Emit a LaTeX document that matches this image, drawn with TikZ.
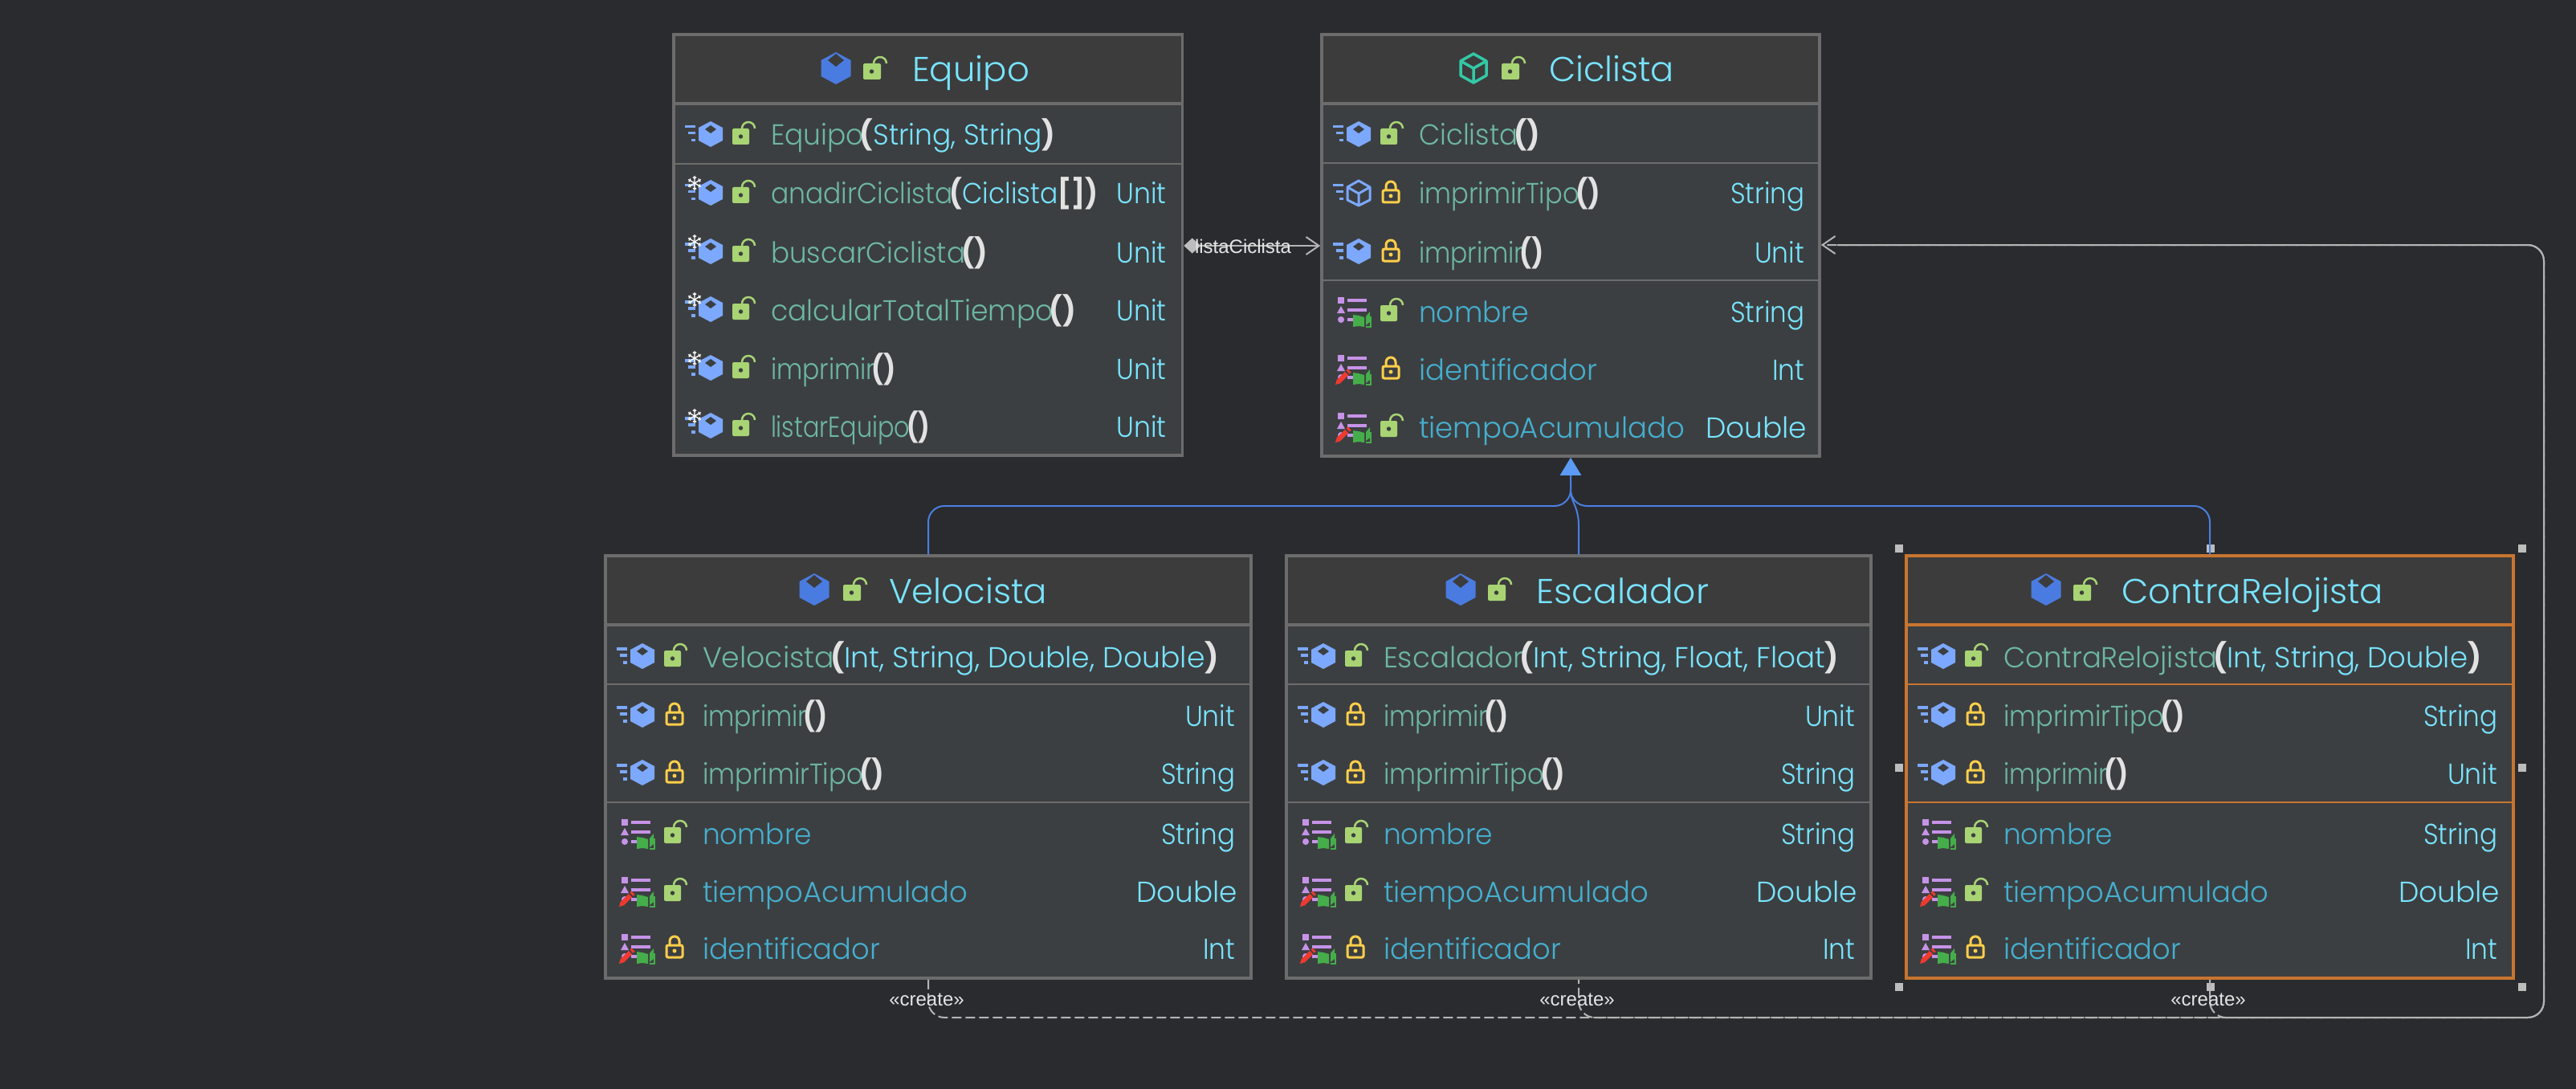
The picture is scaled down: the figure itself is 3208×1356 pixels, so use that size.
\documentclass[tikz,border=0pt]{standalone}
\usepackage{fontspec}
\usetikzlibrary{arrows.meta}
\setmainfont{Poppins Light}[BoldFont=Poppins Bold]
\newfontfamily\arialf{Liberation Sans}
\definecolor{bgc}{HTML}{2A2B2F}
\definecolor{bodyc}{HTML}{3C3F41}
\definecolor{hdrc}{HTML}{3C3C3C}
\definecolor{bordc}{HTML}{6C6C6C}
\definecolor{orngc}{HTML}{C8752F}
\definecolor{mnamec}{HTML}{6DB8A2}
\definecolor{fnamec}{HTML}{45AFCF}
\definecolor{typec}{HTML}{78E4FF}
\definecolor{parc}{HTML}{E2E2E2}
\definecolor{icob}{HTML}{7CA8FF}
\definecolor{hexh}{HTML}{4A7BE0}
\definecolor{tealc}{HTML}{32C9A5}
\definecolor{lockg}{HTML}{A8D474}
\definecolor{locky}{HTML}{FFCF4A}
\definecolor{listc}{HTML}{C693E8}
\definecolor{bookc}{HTML}{45AE4A}
\definecolor{penc}{HTML}{F03A30}
\definecolor{bluel}{HTML}{4A7FDF}
\definecolor{bluet}{HTML}{5B9BF5}
\definecolor{grayl}{HTML}{B4B4B4}
\definecolor{handc}{HTML}{BDBDBD}
\definecolor{labc}{HTML}{E4E4E4}
\newcounter{tn}
\tikzset{
  umlbox/.style={draw=bordc,line width=3.5pt,rectangle,inner sep=0pt},
  txt/.style={inner sep=0pt,outer sep=0pt,font=\fontsize{36}{36}\selectfont},
  hdrtxt/.style={inner sep=0pt,outer sep=0pt,font=\fontsize{43}{43}\selectfont,text=typec},
  lab/.style={inner sep=0pt,outer sep=0pt,font=\arialf\fontsize{24}{24}\selectfont,text=labc},
  inherit/.style={draw=bluel,line width=2pt,rounded corners=20pt},
  dep/.style={draw=grayl,line width=2pt,rounded corners=20pt,dash pattern=on 12pt off 5pt},
  handle/.style={fill=handc}
}
\newcommand\mn[1]{\textcolor{mnamec}{#1}\kern-5pt}
\newcommand\fn[1]{\textcolor{fnamec}{#1}}
\newcommand\ty[1]{\textcolor{typec}{#1}}
\newcommand\pa[1]{\textcolor{parc}{\textbf{#1}}}
% text of given width, left aligned
\newcommand\TxL[4]{\stepcounter{tn}\node[txt,anchor=base west] (t\arabic{tn}) at (#1,#2+1) {\resizebox{#3pt}{\height}{#4}};}
\newcommand\TxR[4]{\stepcounter{tn}\node[txt,anchor=base east] (t\arabic{tn}) at (#1,#2+1) {\resizebox{#3pt}{\height}{#4}};}
\newcommand\TxH[4]{\stepcounter{tn}\node[hdrtxt,anchor=base west] (t\arabic{tn}) at (#1,#2) {\resizebox{#3pt}{\height}{#4}};}
% icons
\newcommand\speedl{\fill[icob] (14,-24) rectangle (27,-20.5);\fill[icob] (18,-16) rectangle (27,-12.5);\fill[icob] (22,-7) rectangle (27,-3.5);}
\newcommand\hexM{\speedl\fill[icob] (46,-29)--(61,-21)--(61,-5)--(46,3)--(31,-5)--(31,-21)--cycle;\fill[bodyc] (46,-24)--(53,-19)--(46,-14)--(39,-19)--cycle;}
\newcommand\cubeM{\speedl\draw[icob,line width=3pt,line join=round] (46,-28)--(60,-20)--(60,-4)--(46,3)--(32,-4)--(32,-20)--cycle (32,-20)--(46,-12)--(60,-20) (46,-12)--(46,3);}
\newcommand\flake{\foreach \a in {30,90,150,210,270,330}{\draw[white,line width=1.3pt] (26,-25)--({26+9*cos(\a)},{-25+9*sin(\a)}) ({26+6*cos(\a)+2.5*cos(\a+60)},{-25+6*sin(\a)+2.5*sin(\a+60)})--({26+6*cos(\a)},{-25+6*sin(\a)})--({26+6*cos(\a)+2.5*cos(\a-60)},{-25+6*sin(\a)+2.5*sin(\a-60)});}}
\newcommand\lockO[1]{\begin{scope}[shift={(#1,0)}]\fill[lockg,rounded corners=2pt] (0,-20) rectangle (21,0);\draw[lockg,line width=2.5pt] (12,-20) arc[start angle=180,end angle=0,radius=8pt];\fill[bodyc] (10.5,-10) circle[radius=2.7pt];\end{scope}}
\newcommand\lockC[1]{\begin{scope}[shift={(#1,0)}]\draw[locky,line width=3pt,rounded corners=2pt] (0,-16) rectangle (20,-1);\draw[locky,line width=3pt] (4,-16)--(4,-21) arc[start angle=180,end angle=0,radius=6pt]--(16,-16);\fill[locky] (10,-9) circle[radius=2.5pt];\end{scope}}
\newcommand\listI{\fill[listc] (20,-30) rectangle (28,-22);\fill[listc] (32,-28) rectangle (56,-24);\fill[listc] (19,-10)--(24,-19)--(29,-10)--cycle;\fill[listc] (32,-16) rectangle (56,-12);\fill[listc] (24,-2) circle[radius=4pt];\fill[listc] (32,-4) rectangle (52,0);\fill[bookc] (39,-8)--(46,-7)--(53,-5)--(53,7)--(46,6)--(39,7)--cycle;\fill[bookc] (55,-6)--(60,-12)--(60,1)--(55,5)--cycle;\draw[bookc,line width=1.5pt] (55,7)--(61,7)--(61,-6);}
\newcommand\pencilI{\fill[penc] (17,7)--(19,0)--(24,5)--cycle;\draw[penc,line width=6pt] (21.5,2.5)--(31,-7);\draw[penc,line width=6pt] (32.5,-8.5)--(34.5,-10.5);}
% rows: L, baseline, lock, width, content
\newcommand\rowM[5]{\begin{scope}[shift={(#1,#2)}]\hexM\if#3o\lockO{73}\else\lockC{76}\fi\end{scope}\TxL{#1+121}{#2}{#4}{#5}}
\newcommand\rowS[5]{\begin{scope}[shift={(#1,#2)}]\hexM\flake\lockO{73}\end{scope}\TxL{#1+121}{#2}{#4}{#5}}
\newcommand\rowA[5]{\begin{scope}[shift={(#1,#2)}]\cubeM\lockC{76}\end{scope}\TxL{#1+121}{#2}{#4}{#5}}
\newcommand\rowF[6]{\begin{scope}[shift={(#1,#2)}]\listI\if#6p\pencilI\fi\if#3o\lockO{73}\else\lockC{76}\fi\end{scope}\TxL{#1+121}{#2}{#4}{\fn{#5}}}
\newcommand\tyS[2]{\TxR{#1}{#2}{92}{\ty{String}}}
\newcommand\tyU[2]{\TxR{#1}{#2}{62}{\ty{Unit}}}
\newcommand\tyI[2]{\TxR{#1}{#2}{40}{\ty{Int}}}
\newcommand\tyD[2]{\TxR{#1+3}{#2}{126}{\ty{Double}}}
\newcommand\hexH[2]{\begin{scope}[shift={(#1,#2)}]\fill[hexh] (0,-37)--(18.5,-27)--(18.5,-7)--(0,3)--(-18.5,-7)--(-18.5,-27)--cycle;\fill[hdrc] (0,-35)--(10,-27)--(0,-19)--(-10,-27)--cycle;\end{scope}}
\newcommand\cubeH[2]{\begin{scope}[shift={(#1,#2)}]\draw[tealc,line width=3.5pt,line join=round] (0,-35)--(16,-26)--(16,-8)--(0,1)--(-16,-8)--(-16,-26)--cycle (-16,-26)--(0,-17)--(16,-26) (0,-17)--(0,1);\end{scope}}
\newcommand\lockH[2]{\begin{scope}[shift={(#1,#2-3)}]\fill[lockg,rounded corners=2pt] (0,-20) rectangle (22,0);\draw[lockg,line width=2.5pt] (13,-20) arc[start angle=180,end angle=0,radius=8pt];\fill[hdrc] (10.5,-10) circle[radius=2.7pt];\end{scope}}
% box: name, x0,y0,x1,y1, header, sep1, sep2, colour
\newcommand\umlb[9]{%
  \fill[bodyc] (#2,#3) rectangle (#4,#5);
  \fill[hdrc] (#2,#3) rectangle (#4,#6);
  \draw[#9,line width=3.5pt] (#2,#6)--(#4,#6);
  \draw[#9,line width=2pt] (#2,#7)--(#4,#7);
  \ifnum#8>0 \draw[#9,line width=2pt] (#2,#8)--(#4,#8);\fi
  \node[umlbox,draw=#9,minimum width={(#4-#2)*1pt},minimum height={(#5-#3)*1pt}] (#1) at ({(#2+#4)/2},{(#3+#5)/2}) {};
}
\begin{document}
\begin{tikzpicture}[x=1pt,y=-1pt]
\useasboundingbox (0,0) rectangle (3208,1356);
\fill[bgc] (0,0) rectangle (3208,1356);
\coordinate (busU) at (0,630);
\coordinate (busD) at (0,1267);
\coordinate (rail) at (3168,0);
\coordinate (assocY) at (0,306);
\coordinate (depY) at (0,305);

\umlb{equipo}{839}{43}{1472.5}{567}{129}{204}{0}{bordc}
\umlb{ciclista}{1646}{43}{2266}{568}{129}{203}{349}{bordc}
\umlb{velocista}{754}{692}{1558}{1218}{778}{852}{999}{bordc}
\umlb{escalador}{1602}{692}{2330}{1218}{778}{852}{999}{bordc}
\umlb{contra}{2374}{692}{3130}{1218}{778}{852}{999}{orngc}

% Equipo
\hexH{1041}{102}\lockH{1075}{102}\TxH{1136}{102}{146}{Equipo}
\rowM{839}{180}{o}{354}{\mn{Equipo}\pa{(}\ty{String, String}\pa{)}}
\rowS{839}{253}{o}{407}{\mn{anadirCiclista}\pa{(}\ty{Ciclista}\pa{[]}\pa{)}}\tyU{1452.5}{253}
\rowS{839}{326}{o}{270}{\mn{buscarCiclista}\pa{()}}\tyU{1452.5}{326}
\rowS{839}{398}{o}{380}{\mn{calcularTotalTiempo}\pa{()}}\tyU{1452.5}{398}
\rowS{839}{471}{o}{156}{\mn{imprimir}\pa{()}}\tyU{1452.5}{471}
\rowS{839}{543}{o}{198}{\mn{listarEquipo}\pa{()}}\tyU{1452.5}{543}

% Ciclista
\cubeH{1835}{102}\lockH{1870}{102}\TxH{1929}{102}{156}{Ciclista}
\rowM{1646}{180}{o}{151}{\mn{Ciclista}\pa{()}}
\rowA{1646}{253}{c}{226}{\mn{imprimirTipo}\pa{()}}\tyS{2247}{253}
\rowM{1646}{326}{c}{156}{\mn{imprimir}\pa{()}}\tyU{2247}{326}
\rowF{1646}{400}{o}{137}{nombre}{n}\tyS{2247}{400}
\rowF{1646}{472}{c}{222}{identificador}{p}\tyI{2247}{472}
\rowF{1646}{544}{o}{331}{tiempoAcumulado}{p}\tyD{2247}{544}

% Velocista
\hexH{1014}{751}\lockH{1050}{751}\TxH{1107}{751}{197}{Velocista}
\rowM{754}{830}{o}{643}{\mn{Velocista}\pa{(}\ty{Int, String, Double, Double}\pa{)}}
\rowM{754}{903}{c}{156}{\mn{imprimir}\pa{()}}\tyU{1538}{903}
\rowM{754}{975}{c}{226}{\mn{imprimirTipo}\pa{()}}\tyS{1538}{975}
\rowF{754}{1050}{o}{136}{nombre}{n}\tyS{1538}{1050}
\rowF{754}{1122}{o}{330}{tiempoAcumulado}{p}\tyD{1538}{1122}
\rowF{754}{1193}{c}{221}{identificador}{p}\tyI{1538}{1193}

% Escalador
\hexH{1819}{751}\lockH{1853}{751}\TxH{1913}{751}{215}{Escalador}
\rowM{1602}{830}{o}{567}{\mn{Escalador}\pa{(}\ty{Int, String, Float, Float}\pa{)}}
\rowM{1602}{903}{c}{156}{\mn{imprimir}\pa{()}}\tyU{2310}{903}
\rowM{1602}{975}{c}{226}{\mn{imprimirTipo}\pa{()}}\tyS{2310}{975}
\rowF{1602}{1050}{o}{136}{nombre}{n}\tyS{2310}{1050}
\rowF{1602}{1122}{o}{330}{tiempoAcumulado}{p}\tyD{2310}{1122}
\rowF{1602}{1193}{c}{221}{identificador}{p}\tyI{2310}{1193}

% ContraRelojista
\hexH{2548}{751}\lockH{2582}{751}\TxH{2642}{751}{326}{ContraRelojista}
\rowM{2374}{830}{o}{595}{\mn{ContraRelojista}\pa{(}\ty{Int, String, Double}\pa{)}}
\rowM{2374}{903}{c}{226}{\mn{imprimirTipo}\pa{()}}\tyS{3110}{903}
\rowM{2374}{975}{c}{156}{\mn{imprimir}\pa{()}}\tyU{3110}{975}
\rowF{2374}{1050}{o}{136}{nombre}{n}\tyS{3110}{1050}
\rowF{2374}{1122}{o}{330}{tiempoAcumulado}{p}\tyD{3110}{1122}
\rowF{2374}{1193}{c}{221}{identificador}{p}\tyI{3110}{1193}

% selection handles
\foreach \hx/\hy in {2365/683,2753/683,3141/683,2365/956,3141/956,2365/1229,2753/1229,3141/1229}{\fill[handle] (\hx-5,\hy-5) rectangle (\hx+5,\hy+5);}

% inheritance
\draw[inherit,-{Triangle[length=22pt,width=26pt,color=bluet]}] (velocista.north) -- (velocista.north |- busU) -- (ciclista.south |- busU) -- (ciclista.south);
\draw[inherit] (contra.north) -- (contra.north |- busU) -- (ciclista.south |- busU) -- ([yshift=-30pt]ciclista.south);
\draw[draw=bluel,line width=2pt] (escalador.north) -- ([yshift=35pt]escalador.north) .. controls ([yshift=60pt]escalador.north) and ([yshift=-55pt]ciclista.south) .. ([yshift=-42pt]ciclista.south);

% dependencies
\draw[dep,-{Straight Barb[length=16pt,width=22pt,line width=2pt]}] (velocista.south) -- (velocista.south |- busD) -- (rail |- busD) -- (rail |- depY) -- (ciclista.east |- depY);
\draw[dep,dash phase=7pt] (escalador.south) -- (escalador.south |- busD) -- (rail |- busD) -- (rail |- depY) -- ([xshift=20pt]ciclista.east |- depY);
\draw[dep,dash phase=3pt] (contra.south) -- (contra.south |- busD) -- (rail |- busD) -- (rail |- depY) -- ([xshift=20pt]ciclista.east |- depY);

% association
\draw[draw=grayl,line width=2pt,{Diamond[length=21pt,width=19pt,fill=handc,color=handc]}-{Straight Barb[length=16pt,width=22pt,line width=2pt]}] (equipo.east |- assocY) -- (ciclista.west |- assocY);
\node[lab,anchor=base] (la) at (1548,315) {listaCiclista};
\node[lab,anchor=base] (c1) at (1154,1252) {«create»};
\node[lab,anchor=base] (c2) at (1964,1252) {«create»};
\node[lab,anchor=base] (c3) at (2750,1252) {«create»};
\end{tikzpicture}
\end{document}
